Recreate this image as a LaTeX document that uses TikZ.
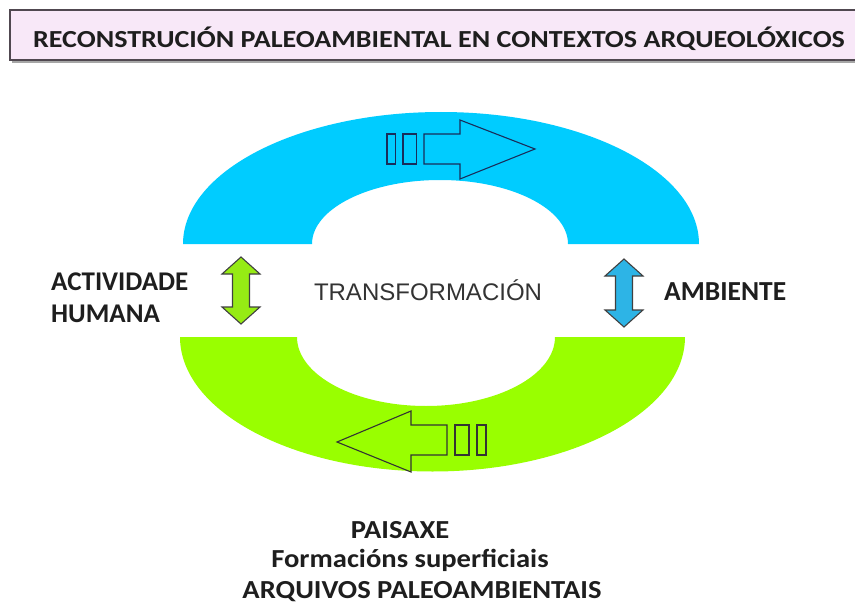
\documentclass[tikz,border=0pt]{standalone}
\usepackage{fontspec}
\setmainfont{Carlito}
\newfontfamily\arialf{Liberation Sans}
\definecolor{ringblue}{RGB}{0,204,255}
\definecolor{ringgreen}{RGB}{153,255,0}
\definecolor{dblgreen}{RGB}{150,235,20}
\definecolor{dblblue}{RGB}{45,180,230}
\definecolor{titlefill}{RGB}{248,232,248}
\definecolor{titleedge}{RGB}{80,72,80}
\definecolor{navy}{RGB}{25,45,90}
\definecolor{txt}{RGB}{30,30,30}
\tikzset{
  outl/.style={line width=1.1pt, line join=miter},
  dblarrow/.style={draw=black!75, line width=1.1pt, line join=miter},
  lbl/.style={font=\bfseries\fontsize{27}{32}\selectfont, text=txt, inner sep=0pt},
  bottomlbl/.style={font=\bfseries\fontsize{26}{31}\selectfont, text=txt, inner sep=0pt, xscale=1.1},
}
\begin{document}
\begin{tikzpicture}[x=1pt,y=-1pt]
\useasboundingbox (0,0) rectangle (855,610);
\fill[white] (0,0) rectangle (855,610);
% title
\fill[black!35] (12,13) rectangle (870,63);
\draw[titleedge, fill=titlefill, line width=1.6pt] (10,10) rectangle (870,60);
\node[anchor=base, inner sep=0pt, text=txt, xscale=1.145, font=\bfseries\fontsize{24.5}{29}\selectfont] (title) at (439,48) {RECONSTRUCIÓN PALEOAMBIENTAL EN CONTEXTOS ARQUEOLÓXICOS};
% blue half ring
\fill[ringblue] (183,244) arc[start angle=180, end angle=360, x radius=258, y radius=132]
  -- (568,244) arc[start angle=0, end angle=-180, x radius=128, y radius=64] -- cycle;
% green half ring
\fill[ringgreen] (180,337) arc[start angle=180, end angle=0, x radius=252.5, y radius=134.5]
  -- (555,337) arc[start angle=0, end angle=180, x radius=129, y radius=69] -- cycle;
% blue flow arrow
\draw[navy, outl] (387,134) rectangle (395.5,164);
\draw[navy, outl] (403,134) rectangle (416.5,164);
\draw[navy, outl] (424,134) -- (460,134) -- (460,120) -- (535,149) -- (460,179) -- (460,164) -- (424,164) -- cycle;
% green flow arrow
\draw[black!80, outl] (455,425) rectangle (469,455);
\draw[black!80, outl] (477,425) rectangle (486,455);
\draw[black!80, outl] (447,425) -- (411,425) -- (411,411) -- (337,442) -- (411,472) -- (411,455) -- (447,455) -- cycle;
% double arrows
\draw[dblarrow, fill=dblgreen] (241,257) -- (260,274) -- (249.5,274) -- (249.5,307) -- (260,307) -- (241,324) -- (222,307) -- (232.5,307) -- (232.5,274) -- (222,274) -- cycle;
\draw[dblarrow, fill=dblblue] (624,259) -- (643,276) -- (632.5,276) -- (632.5,310) -- (643,310) -- (624,327) -- (605,310) -- (615.5,310) -- (615.5,276) -- (605,276) -- cycle;
% labels
\node[anchor=base west, lbl] (act) at (51,290) {ACTIVIDADE};
\node[anchor=base west, lbl] (hum) at (51,322) {HUMANA};
\node[anchor=base west, lbl, font=\bfseries\fontsize{27.5}{32}\selectfont] (amb) at (664,300) {AMBIENTE};
\node[anchor=base, inner sep=0pt, text=black!80, font=\arialf\fontsize{24}{28}\selectfont] (trans) at (428,300) {TRANSFORMACIÓN};
\node[anchor=base, bottomlbl] (pai) at (400,538) {PAISAXE};
\node[anchor=base, bottomlbl] (form) at (410,567) {Formacións superficiais};
\node[anchor=base, bottomlbl] (arq) at (422,598) {ARQUIVOS PALEOAMBIENTAIS};
\end{tikzpicture}
\end{document}
